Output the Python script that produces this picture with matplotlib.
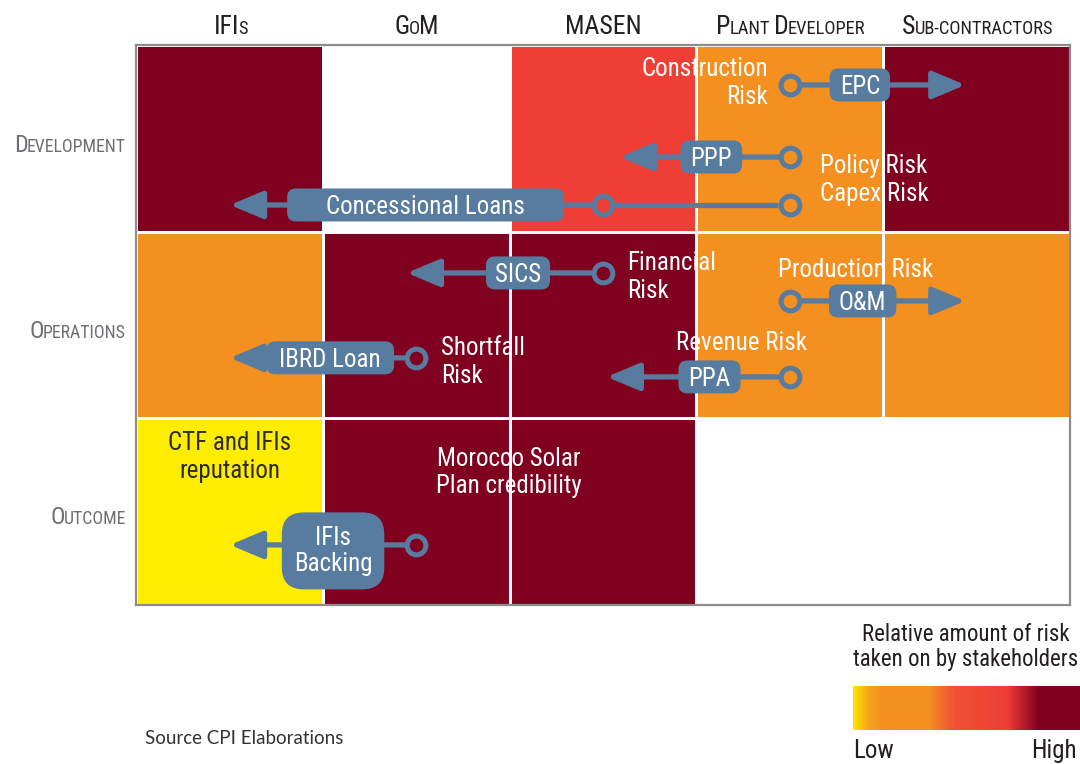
import matplotlib
matplotlib.use("Agg")
import matplotlib.pyplot as plt
import numpy as np
from matplotlib import font_manager as fm
from matplotlib.colors import ListedColormap, BoundaryNorm, LinearSegmentedColormap
from matplotlib.patches import FancyBboxPatch

W, H = 1080, 764

stakeholders = ["IFIs", "GoM", "MASEN", "Plant Developer", "Sub-contractors"]
phases = ["Development", "Operations", "Outcome"]
# risk level per cell: 0 none, 1 low ... 4 high
risk = [[4, 0, 3, 2, 4],
        [2, 4, 4, 2, 2],
        [1, 4, 4, 0, 0]]

# risk mitigation mechanisms: who passes risk to whom
mech_names = ["EPC", "PPP", "Concessional Loans", "SICS", "O&M", "IBRD Loan", "PPA", "IFIs\nBacking"]
mech_from = [["Plant Developer"], ["Plant Developer"], ["Plant Developer", "MASEN"], ["MASEN"],
             ["Plant Developer"], ["GoM"], ["Plant Developer"], ["GoM"]]
mech_to = ["Sub-contractors", "MASEN", "IFIs", "GoM", "Sub-contractors", "IFIs", "MASEN", "IFIs"]

risk_notes = ["Construction\nRisk", "Policy Risk\nCapex Risk", "Financial\nRisk", "Production Risk",
              "Shortfall\nRisk", "Revenue Risk", "CTF and IFIs\nreputation", "Morocco Solar\nPlan credibility"]

# layout (data coords: column units across, row units down)
mech_y = [0.214, 0.60, 0.857, 1.221, 1.371, 1.676, 1.778, 2.678]
mech_label_x = [3.875, 3.08, 1.55, 2.045, 3.89, 1.04, 3.07, 1.055]
mech_tip_x = [4.44, 2.59, 0.503, 1.45, 4.44, 0.503, 2.52, 0.503]
mech_padx = [10, 10, 39, 9, 10, 13, 10, 12]   # box padding, px
note_pos = [(3.383, 0.205, "right"), (3.66, 0.723, "left"), (2.63, 1.243, "left"), (3.85, 1.205, "center"),
            (1.633, 1.698, "left"), (3.24, 1.596, "center"), (0.503, 2.207, "center"), (1.997, 2.29, "center")]

# pick a condensed face that is installed
have = {f.name for f in fm.fontManager.ttflist}
narrow = [f for f in ["Roboto Condensed", "Archivo Narrow", "PT Sans Narrow", "Fira Sans Condensed",
                      "IBM Plex Sans Condensed", "Encode Sans Condensed", "Liberation Sans Narrow",
                      "Asap Condensed", "Barlow Semi Condensed"] if f in have]
plt.rcParams['font.family'] = narrow[:1] + ['DejaVu Sans']
if not narrow:
    plt.rcParams['font.stretch'] = 'condensed'

blue = "#587BA0"
cell_colors = ["#FFFFFF", "#FFED00", "#F39020", "#EF3E36", "#800020"]

fig = plt.figure(figsize=(W / 100, H / 100), dpi=100)
ax = fig.add_axes([136 / W, 1 - 605 / H, (1070 - 136) / W, (605 - 45) / H])

cmap = ListedColormap(cell_colors)
norm = BoundaryNorm(np.arange(-0.5, 5.5, 1), cmap.N)
ax.pcolormesh(np.arange(len(stakeholders) + 1), np.arange(len(phases) + 1), np.array(risk),
              cmap=cmap, norm=norm, edgecolors="white", linewidth=2)
ax.set_xlim(0, len(stakeholders))
ax.set_ylim(len(phases), 0)
ax.set_xticks([])
ax.set_yticks([])
for sp in ax.spines.values():
    sp.set_color("#8C8C8C")
    sp.set_linewidth(1.6)

renderer = fig.canvas.get_renderer()
col = {s: i + 0.5 for i, s in enumerate(stakeholders)}
r = 0.065  # circle radius in column units
ppu = (605 - 45) / 3.0  # pixels per row unit
fs = 18
cap_half = 0.71 * fs * 100 / 72 / 2 / ppu

# mechanisms
for name, frm, to, y, lx, tip, padx in zip(mech_names, mech_from, mech_to, mech_y, mech_label_x,
                                           mech_tip_x, mech_padx):
    xs = [col[f] for f in frm]
    direction = 1 if tip > xs[0] else -1
    for a, b in zip(xs[:-1], xs[1:]):
        ax.plot([a + direction * r, b - direction * r], [y, y], color=blue, lw=3.8, solid_capstyle="butt", zorder=3)
    ax.annotate("", xy=(tip, y), xytext=(xs[-1] + direction * r, y),
                arrowprops=dict(arrowstyle="-|>,head_length=1.0,head_width=0.42", mutation_scale=20,
                                lw=3.8, color=blue, shrinkA=0, shrinkB=0), zorder=3)
    ax.plot(xs, [y] * len(xs), "o", ms=13.5, mfc="none", mec=blue, mew=3.6, zorder=4)
    cx, cy = ax.transData.transform((lx, y))
    if "\n" in name:
        bh, rs = 77, 22
        cy -= 6
        t = ax.text(lx, y + 6 / ppu, name, ha="center", va="center", color="white", fontsize=fs,
                    linespacing=1.08, zorder=6)
    else:
        bh, rs = 33, 9
        t = ax.text(lx, y + cap_half, name, ha="center", va="baseline", color="white", fontsize=fs, zorder=6)
    bw = t.get_window_extent(renderer).width + 2 * padx
    ax.add_patch(FancyBboxPatch(((cx - bw / 2) / 100, (cy - bh / 2) / 100), bw / 100, bh / 100,
                                boxstyle=f"round,pad=0,rounding_size={rs / 100}", transform=fig.dpi_scale_trans,
                                fc=blue, ec="none", zorder=5))

# risk notes
for note, (x, y, ha) in zip(risk_notes, note_pos):
    c = "#2B2B2B" if note.startswith("CTF") else "white"
    ax.text(x, y, note, ha=ha, va="center", color=c, fontsize=18, linespacing=1.2, zorder=7)


def smallcaps(label, x_px, y_px, size, color, ha, ratio=0.74):
    runs = []
    for ch in label:
        if ch == " ":
            runs.append((" ", None))
            continue
        big = ch.isupper()
        if runs and runs[-1][1] == big:
            runs[-1] = (runs[-1][0] + ch.upper(), big)
        else:
            runs.append((ch.upper(), big))
    arts, widths = [], []
    for txt, big in runs:
        if big is None:
            arts.append(None)
            widths.append(size * 0.2 * 100 / 72)
            continue
        t = fig.text(0, 0, txt, fontsize=size if big else size * ratio, color=color, ha="left", va="baseline")
        arts.append(t)
        widths.append(t.get_window_extent(renderer).width - 1.0)
    total = sum(widths)
    x0 = x_px - total / 2 if ha == "center" else x_px - total
    for t, w in zip(arts, widths):
        if t is not None:
            t.set_position((x0 / W, 1 - y_px / H))
        x0 += w


col_px = [230, 416, 603, 790, 977]
for s, xp in zip(stakeholders, col_px):
    smallcaps(s, xp, 34, 18.5, "#231F20", "center", 0.72)
row_px = [152, 338, 524]
for p, yp in zip(phases, row_px):
    smallcaps(p, 125, yp, 17.3, "#6D6E71", "right")

# legend
fig.text(966 / W, 1 - 647 / H, "Relative amount of risk\ntaken on by stakeholders", ha="center", va="center",
         fontsize=16.5, color="#231F20", linespacing=1.1)
cax = fig.add_axes([853 / W, 1 - 730 / H, (W - 853) / W, 44 / H])
grad = LinearSegmentedColormap.from_list("risk", [(0, "#FFE600"), (0.07, "#F7A21D"), (0.13, "#F39020"),
                                                  (0.33, "#F39020"), (0.45, "#EE5134"), (0.68, "#EF3E36"),
                                                  (0.82, "#800020"), (1, "#800020")])
cax.imshow(np.linspace(0, 1, 256)[None, :], cmap=grad, aspect="auto")
cax.axis("off")
fig.text(853 / W, 1 - 751 / H, "Low", ha="left", va="center", fontsize=18, color="#231F20")
fig.text(1077 / W, 1 - 751 / H, "High", ha="right", va="center", fontsize=18, color="#231F20")

fig.text(145 / W, 1 - 738 / H, "Source CPI Elaborations", ha="left", va="center", fontsize=13.5,
         color="#333333", family=["Lato", "DejaVu Sans"])

fig.savefig("out.png", dpi=100)
